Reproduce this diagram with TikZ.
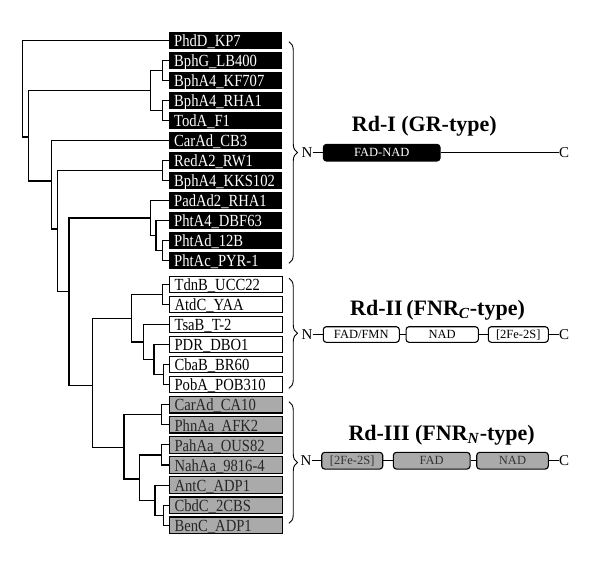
\documentclass[tikz,border=0pt]{standalone}
\usepackage{fontspec}
\setmainfont{Liberation Serif}
\newfontfamily\lbl[FakeStretch=0.86]{Liberation Serif}
\usetikzlibrary{decorations.pathreplacing}
\definecolor{boxgray}{RGB}{170,170,170}
\newcommand\joinpair[3]{\draw[tree] (#2) -| (#1) |- (#3);}
\begin{document}
\begin{tikzpicture}[x=1pt,y=-1pt,
  tree/.style={line width=1.1pt},
  leaf/.style={anchor=west, minimum height=16.5pt, text width=102.5pt, inner xsep=5pt, inner ysep=0pt, align=left, font=\lbl\fontsize{17}{17}\selectfont, text height=12.5pt, text depth=0pt},
  blk/.style={leaf, fill=black, text=white},
  wht/.style={leaf, draw, line width=1.2pt, fill=white},
  gry/.style={leaf, draw, line width=1.2pt, fill=boxgray, text=black!85},
  brc/.style={decorate, decoration={brace, amplitude=8.5pt}, line width=0.9pt},
  dom/.style={draw, rounded corners=3pt, line width=1.1pt, inner sep=0pt, font=\fontsize{12.5}{12.5}\selectfont},
  term/.style={inner sep=0pt, font=\fontsize{15}{15}\selectfont},
  title/.style={inner sep=0pt, anchor=base west, font=\bfseries\fontsize{22}{22}\selectfont},
  conn/.style={line width=1.1pt}
]
\useasboundingbox (0,0) rectangle (600,560);

% leaves
\node[blk] (L1) at (169,40.5) {PhdD\_KP7};
\node[blk] (L2) at (169,60.5) {BphG\_LB400};
\node[blk] (L3) at (169,80.5) {BphA4\_KF707};
\node[blk] (L4) at (169,100.5) {BphA4\_RHA1};
\node[blk] (L5) at (169,120.5) {TodA\_F1};
\node[blk] (L6) at (169,140.5) {CarAd\_CB3};
\node[blk] (L7) at (169,160.5) {RedA2\_RW1};
\node[blk] (L8) at (169,180.5) {BphA4\_KKS102};
\node[blk] (L9) at (169,200.5) {PadAd2\_RHA1};
\node[blk] (L10) at (169,220.5) {PhtA4\_DBF63};
\node[blk] (L11) at (169,240.5) {PhtAd\_12B};
\node[blk] (L12) at (169,260.5) {PhtAc\_PYR-1};
\node[wht] (W1) at (169,284.5) {TdnB\_UCC22};
\node[wht] (W2) at (169,304.5) {AtdC\_YAA};
\node[wht] (W3) at (169,324.5) {TsaB\_T-2};
\node[wht] (W4) at (169,344.5) {PDR\_DBO1};
\node[wht] (W5) at (169,364.5) {CbaB\_BR60};
\node[wht] (W6) at (169,384.5) {PobA\_POB310};
\node[gry] (G1) at (169,404.7) {CarAd\_CA10};
\node[gry] (G2) at (169,424.8) {PhnAa\_AFK2};
\node[gry] (G3) at (169,444.9) {PahAa\_OUS82};
\node[gry] (G4) at (169,465.0) {NahAa\_9816-4};
\node[gry] (G5) at (169,485.1) {AntC\_ADP1};
\node[gry] (G6) at (169,505.2) {CbdC\_2CBS};
\node[gry] (G7) at (169,525.3) {BenC\_ADP1};

% internal nodes
\coordinate (bph1) at (162.3,70.5);
\coordinate (bph2) at (162.3,110.5);
\coordinate (bph) at (150.7,90.5);
\coordinate (red) at (162.3,170.5);
\coordinate (pht3) at (162.3,250.5);
\coordinate (pht2) at (156,235.5);
\coordinate (pht) at (150.7,218);
\coordinate (w1) at (162.3,294.5);
\coordinate (w4) at (163.3,374.5);
\coordinate (w3) at (154,359.5);
\coordinate (w2) at (143.3,342);
\coordinate (wt) at (131.7,318.3);
\coordinate (g1) at (161.7,414.8);
\coordinate (g3) at (161.7,455);
\coordinate (g5) at (163.3,515.3);
\coordinate (g4) at (155,500.2);
\coordinate (g2) at (139.3,479);
\coordinate (gy) at (124,447.5);
\coordinate (n6) at (92.3,385.7);
\coordinate (n5) at (69,291.7);
\coordinate (n4) at (57.3,229);
\coordinate (n3) at (51.7,181);
\coordinate (n2) at (28.3,137);
\coordinate (n1) at (22.7,90);

\joinpair{bph1}{L2.west}{L3.west}
\joinpair{bph2}{L4.west}{L5.west}
\joinpair{bph}{bph1}{bph2}
\joinpair{red}{L7.west}{L8.west}
\joinpair{pht3}{L11.west}{L12.west}
\joinpair{pht2}{L10.west}{pht3}
\joinpair{pht}{L9.west}{pht2}
\joinpair{w1}{W1.west}{W2.west}
\joinpair{w4}{W5.west}{W6.west}
\joinpair{w3}{W4.west}{w4}
\joinpair{w2}{W3.west}{w3}
\joinpair{wt}{w1}{w2}
\joinpair{g1}{G1.west}{G2.west}
\joinpair{g3}{G3.west}{G4.west}
\joinpair{g5}{G6.west}{G7.west}
\joinpair{g4}{G5.west}{g5}
\joinpair{g2}{g3}{g4}
\joinpair{gy}{g1}{g2}
\joinpair{n6}{wt}{gy}
\joinpair{n5}{pht}{n6}
\joinpair{n4}{red}{n5}
\joinpair{n3}{L6.west}{n4}
\joinpair{n2}{bph}{n3}
\joinpair{n1}{L1.west}{n2}

% braces
\coordinate (b1t) at (289,41.7); \coordinate (b1b) at (289,263.3);
\coordinate (b2t) at (289,278.3); \coordinate (b2b) at (289,388.3);
\coordinate (b3t) at (289,401.7); \coordinate (b3b) at (289,523.3);
\draw[brc] (b1t) -- (b1b);
\draw[brc] (b2t) -- (b2b);
\draw[brc] (b3t) -- (b3b);

% Rd-I
\node[title] (t1) at (351.7,131.7) {Rd-I (GR-type)};
\node[term, anchor=west] (n1N) at (301.5,152.7) {N};
\node[term, anchor=west] (n1C) at (559,152.7) {C};
\node[dom, fill=black, text=white, minimum width=116.7pt, minimum height=16.5pt] (d11) at (381.7,152.7) {FAD-NAD};
\draw[conn] (n1N) -- (d11);
\draw[conn] (d11) -- (n1C);

% Rd-II
\node[title] (t2) at (350,315) {Rd-II\,(FNR\textsubscript{\textit{C}}-type)};
\node[term, anchor=west] (n2N) at (301.5,334.5) {N};
\node[term, anchor=west] (n2C) at (559,334.5) {C};
\node[dom, fill=white, minimum width=76pt, minimum height=15.6pt] (d21) at (361.3,334.5) {FAD/FMN};
\node[dom, fill=white, minimum width=72.3pt, minimum height=15.6pt] (d22) at (442.2,334.5) {NAD};
\node[dom, fill=white, minimum width=60pt, minimum height=15.6pt] (d23) at (518.3,334.5) {[2Fe-2S]};
\draw[conn] (n2N) -- (d21);
\draw[conn] (d21) -- (d22);
\draw[conn] (d22) -- (d23);
\draw[conn] (d23) -- (n2C);

% Rd-III
\node[title] (t3) at (348.3,440) {Rd-III (FNR\textsubscript{\textit{N}}-type)};
\node[term, anchor=west] (n3N) at (300.5,460.7) {N};
\node[term, anchor=west] (n3C) at (559,460.7) {C};
\node[dom, fill=boxgray, text=black!80, minimum width=61pt, minimum height=16.7pt] (d31) at (352.2,460.7) {[2Fe-2S]};
\node[dom, fill=boxgray, text=black!80, minimum width=76.7pt, minimum height=16.7pt] (d32) at (431.7,460.7) {FAD};
\node[dom, fill=boxgray, text=black!80, minimum width=71.6pt, minimum height=16.7pt] (d33) at (512.5,460.7) {NAD};
\draw[conn] (n3N) -- (d31);
\draw[conn] (d31) -- (d32);
\draw[conn] (d32) -- (d33);
\draw[conn] (d33) -- (n3C);
\end{tikzpicture}
\end{document}
